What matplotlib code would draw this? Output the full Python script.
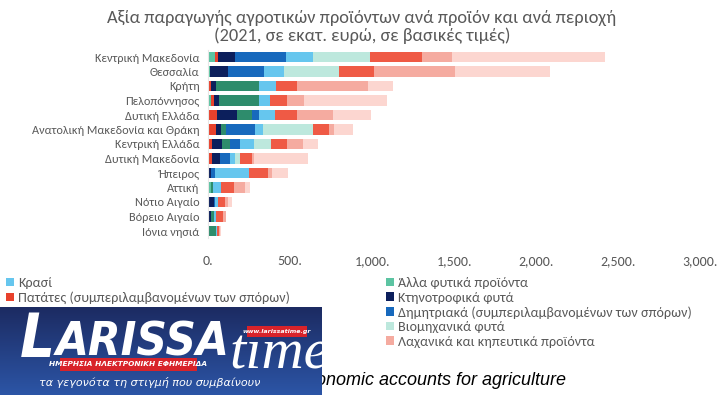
import numpy as np
import matplotlib
matplotlib.use("Agg")
import matplotlib.pyplot as plt
from matplotlib import font_manager as fm
from matplotlib.ft2font import FT2Font
from matplotlib.patches import Patch, Rectangle
from matplotlib.ticker import FuncFormatter

# ---------------- data ----------------
regions = ["Κεντρική Μακεδονία", "Θεσσαλία", "Κρήτη", "Πελοπόννησος", "Δυτική Ελλάδα",
           "Ανατολική Μακεδονία και Θράκη", "Κεντρική Ελλάδα", "Δυτική Μακεδονία",
           "Ήπειρος", "Αττική", "Νότιο Αιγαίο", "Βόρειο Αιγαίο", "Ιόνια νησιά"]

series_names = ["Άλλα φυτικά προϊόντα", "Πατάτες (συμπεριλαμβανομένων των σπόρων)",
                "Κτηνοτροφικά φυτά", "Ελαιόλαδο", "Δημητριακά (συμπεριλαμβανομένων των σπόρων)",
                "Κρασί", "Βιομηχανικά φυτά", "Φρέσκα λαχανικά",
                "Λαχανικά και κηπευτικά προϊόντα", "Φρούτα"]

allo_fytika   = [45, 10, 0, 16, 0, 0, 0, 0, 0, 16, 0, 0, 0]
patates       = [18, 0, 16, 18, 57, 46, 27, 22, 0, 0, 0, 0, 0]
ktinotrofika  = [100, 109, 35, 31, 122, 31, 56, 49, 20, 0, 34, 16, 0]
elaiolado     = [0, 0, 261, 249, 87, 30, 52, 0, 0, 14, 0, 18, 50]
dimitriaka    = [311, 222, 0, 0, 46, 179, 63, 66, 20, 0, 11, 0, 0]
krasi         = [166, 124, 103, 63, 97, 52, 80, 25, 212, 47, 15, 17, 5]
viomichanika  = [347, 336, 0, 0, 0, 302, 109, 34, 0, 0, 0, 0, 0]
freska        = [316, 210, 129, 103, 135, 95, 96, 72, 111, 84, 41, 40, 10]
lachanika     = [183, 497, 433, 104, 216, 35, 95, 10, 30, 65, 20, 16, 10]
frouta        = [935, 577, 151, 510, 233, 116, 91, 330, 95, 30, 24, 4, 6]

series_values = [allo_fytika, patates, ktinotrofika, elaiolado, dimitriaka,
                 krasi, viomichanika, freska, lachanika, frouta]
series_colors = ["#5cc4a2", "#e8412c", "#0c1f5c", "#2e8c6c", "#1769bd",
                 "#66c6ee", "#bde8dd", "#ef5a45", "#f5aba0", "#fcd6d0"]

xticks = [0, 500, 1000, 1500, 2000, 2500, 3000]

title = "Αξία παραγωγής αγροτικών προϊόντων ανά προϊόν και ανά περιοχή\n(2021, σε εκατ. ευρώ, σε βασικές τιμές)"
source = "Πηγή: Eurostat, Economic accounts for agriculture"

# ---------------- fonts ----------------
def has_greek(name):
    try:
        path = fm.findfont(fm.FontProperties(family=name), fallback_to_default=False)
        return FT2Font(path).get_char_index(ord('λ')) != 0
    except Exception:
        return False

main_font = "DejaVu Sans"
for cand in ["Carlito", "Lato", "Open Sans", "Noto Sans"]:
    if has_greek(cand):
        main_font = cand
        break
plt.rcParams['font.family'] = [main_font, 'DejaVu Sans']

W, H = 723, 395
fig = plt.figure(figsize=(W / 100, H / 100), dpi=100)
fig.patch.set_facecolor("white")

def fx(px):
    return px / W

def fy(py):
    return 1 - py / H

ax_left, ax_right = 208, 700
ax_top, ax_bot = 49.75, 238.25
ax = fig.add_axes([fx(ax_left), fy(ax_bot), fx(ax_right - ax_left), (ax_bot - ax_top) / H])

y = np.arange(len(regions))
left = np.zeros(len(regions))
handles = {}
for name, vals, col in zip(series_names, series_values, series_colors):
    vals = np.array(vals, dtype=float)
    ax.barh(y, vals, left=left, height=0.7, color=col, edgecolor="none")
    handles[name] = Patch(facecolor=col, edgecolor="none", label=name)
    left += vals

ax.set_xlim(0, 3000)
ax.set_ylim(len(regions) - 0.5, -0.5)
ax.set_yticks(y)
ax.set_yticklabels(regions)
ax.set_xticks(xticks)
ax.xaxis.set_major_formatter(FuncFormatter(lambda v, p: f"{v:,.0f}."))
ax.tick_params(axis="y", length=0, pad=6, labelsize=8.8, labelcolor="#595959")
ax.tick_params(axis="x", length=0, pad=12, labelsize=10, labelcolor="#595959")
for s in ["top", "right", "bottom"]:
    ax.spines[s].set_visible(False)
ax.spines["left"].set_color("#e6e6e6")
ax.spines["left"].set_linewidth(0.8)

fig.text(fx(362), fy(27), title, ha="center", va="center", fontsize=13.2,
         color="#595959", linespacing=1.15)

# legends
left_names = ["Κρασί", "Πατάτες (συμπεριλαμβανομένων των σπόρων)", "Ελαιόλαδο",
              "Φρέσκα λαχανικά", "Φρούτα"]
right_names = ["Άλλα φυτικά προϊόντα", "Κτηνοτροφικά φυτά",
               "Δημητριακά (συμπεριλαμβανομένων των σπόρων)", "Βιομηχανικά φυτά",
               "Λαχανικά και κηπευτικά προϊόντα"]
leg_kw = dict(frameon=False, fontsize=10.2, handlelength=0.55, handleheight=0.55,
              handletextpad=0.3, labelspacing=0.18, borderpad=0, borderaxespad=0,
              labelcolor="#595959")
leg1 = fig.legend(handles=[handles[n] for n in left_names], loc="upper left",
                  bbox_to_anchor=(fx(6), fy(277)), **leg_kw)
leg2 = fig.legend(handles=[handles[n] for n in right_names], loc="upper left",
                  bbox_to_anchor=(fx(386), fy(277)), **leg_kw)

fig.text(fx(566), fy(380), source, ha="right", va="center", fontsize=13,
         style="italic", family=["Liberation Sans", "DejaVu Sans"], color="black",
         zorder=1)

# ---------------- logo overlay ----------------
lx0, lx1, ly0, ly1 = 0, 322, 307, 395
lw, lh = lx1 - lx0, ly1 - ly0
lax = fig.add_axes([fx(lx0), fy(ly1), fx(lw), lh / H], zorder=10)
lax.set_xlim(0, lw)
lax.set_ylim(lh, 0)
lax.axis("off")
grad = np.linspace(0, 1, 100)[:, None]
c_top = np.array([0x1c, 0x2b, 0x62]) / 255
c_bot = np.array([0x2c, 0x55, 0xa6]) / 255
img = c_top[None, None, :] * (1 - grad[..., None]) + c_bot[None, None, :] * grad[..., None]
img = np.repeat(img, 2, axis=1)
lax.imshow(img, extent=(0, lw, lh, 0), aspect="auto", zorder=0)

lax.text(20, 50, "L", color="white", fontsize=44, fontweight="heavy", style="italic",
         family=["DejaVu Sans"], stretch="condensed", ha="left", va="baseline", zorder=2)
lax.text(56, 49, "ARISSA", color="white", fontsize=34, fontweight="heavy", style="italic",
         family=["DejaVu Sans"], stretch="condensed", ha="left", va="baseline", zorder=2)
lax.text(229, 61, "time", color="white", fontsize=42, style="italic",
         family=["Liberation Serif", "DejaVu Serif"], ha="left", va="baseline", zorder=2)
lax.add_patch(Rectangle((60, 51), 137, 13, facecolor="#d8232a", edgecolor="none", zorder=3))
lax.text(128.5, 57.5, "ΗΜΕΡΗΣΙΑ ΗΛΕΚΤΡΟΝΙΚΗ ΕΦΗΜΕΡΙΔΑ", color="white", fontsize=5.3,
         fontweight="bold", style="italic", family=["DejaVu Sans"], ha="center",
         va="center", zorder=4)
lax.add_patch(Rectangle((247, 19), 60, 11, facecolor="#d8232a", edgecolor="none", zorder=3))
lax.text(277, 24.5, "www.larissatime.gr", color="white", fontsize=4.5, fontweight="bold",
         style="italic", family=["DejaVu Sans"], ha="center", va="center", zorder=4)
lax.text(150, 75, "τα γεγονότα τη στιγμή που συμβαίνουν", color="white", fontsize=8,
         style="italic", family=["DejaVu Sans"], ha="center", va="center", zorder=4)

fig.savefig("out.png", dpi=100)
